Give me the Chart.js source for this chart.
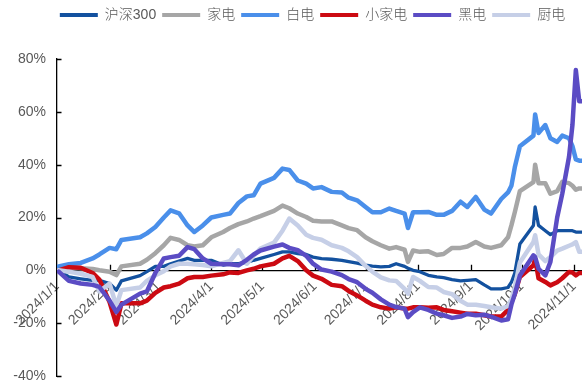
<!DOCTYPE html>
<html>
<head>
<meta charset="utf-8">
<script src="https://cdn.jsdelivr.net/npm/chart.js@4.4.1/dist/chart.umd.min.js"></script>
<style>
  html, body { margin: 0; padding: 0; overflow: hidden; background: #ffffff; }
  canvas { display: block; }
</style>
</head>
<body>
<canvas id="chart" width="630" height="387"></canvas>
<script>
// Trading dates sampled through 2024 (cumulative return, %)
const dates = [
  '2024-01-02','2024-01-08','2024-01-15','2024-01-22','2024-01-26','2024-02-01','2024-02-05','2024-02-08','2024-02-19','2024-02-23',
  '2024-02-28','2024-03-04','2024-03-08','2024-03-13','2024-03-18','2024-03-22','2024-03-27','2024-04-01','2024-04-08','2024-04-12',
  '2024-04-17','2024-04-22','2024-04-26','2024-04-30','2024-05-08','2024-05-13','2024-05-17','2024-05-22','2024-05-27','2024-05-31',
  '2024-06-05','2024-06-11','2024-06-17','2024-06-21','2024-06-26','2024-07-01','2024-07-05','2024-07-10','2024-07-15','2024-07-19',
  '2024-07-24','2024-07-26','2024-07-29','2024-08-02','2024-08-07','2024-08-12','2024-08-16','2024-08-21','2024-08-26','2024-08-30',
  '2024-09-04','2024-09-09','2024-09-13','2024-09-19','2024-09-23','2024-09-25','2024-09-27','2024-09-30','2024-10-08','2024-10-09',
  '2024-10-11','2024-10-15','2024-10-18','2024-10-22','2024-10-25','2024-10-29','2024-10-31','2024-11-02','2024-11-04','2024-11-06'
];

const hs300 = [
  0, -2.5, -3.2, -3.8, -3.8, -5, -7.5, -4, -2, -0.5,
  1.5, 1.5, 2.5, 3.5, 4.5, 3.8, 3.8, 3.8, 2, 2.5,
  2.5, 3, 3.8, 4.5, 6, 7, 7, 6.3, 6, 5,
  4.4, 4.2, 3.8, 3.3, 2.7, 2, 1.6, 1.3, 1.5, 2.5,
  1.5, 0.8, 0, -0.5, -1.9, -2.5, -2.8, -3.5, -4, -3.8,
  -3.5, -5.5, -7, -7, -6.5, -4.5, -1, 10, 17, 24,
  17, 15, 13.5, 15, 15, 15, 15, 14.5, 14.5, 14.5
];
const appliances = [
  1, 1, 0.8, 0.5, 0, -0.5, -1.8, 1.5, 2.5, 4,
  6.5, 9.5, 12.3, 11.5, 9.5, 9, 9.5, 12.5, 14.5, 16,
  17.5, 18.5, 19.6, 20.5, 22.5, 24.5, 23.5, 21.5, 20.2, 18.8,
  18.5, 18.5, 17, 16, 15.2, 12.5, 11, 9.5, 8.2, 8.8,
  7.8, 3.2, 7.5, 7, 7.2, 5.8, 6.2, 8.5, 8.5, 9,
  10.7, 9, 8.5, 9.5, 12.5, 17, 22, 30, 33.4, 40,
  33, 33, 29, 30, 33.5, 33, 32, 30.5, 31, 31
];
const whiteGoods = [
  1.5, 2.3, 2.8, 4.5, 6, 8.5, 8, 11.5, 12.5, 14,
  16.4, 20, 22.7, 21.6, 17, 14.5, 17, 20, 21, 21.5,
  25.5, 28, 28.4, 32.8, 35, 38.5, 38, 34, 32.8, 31,
  31.5, 29.7, 29.5, 27.5, 26.5, 24, 22, 22, 23.4, 22.5,
  21.5, 16, 22, 22, 22.1, 21, 21, 22.5, 26, 24,
  27.8, 23, 21.5, 27, 29.5, 32, 39, 47, 51, 59,
  52, 55, 50, 48.6, 51, 50, 47, 42, 41.5, 41.5
];
const smallAppliances = [
  0, 1.2, 1, -1, -3.5, -12, -20.5, -12.5, -12.5, -11.5,
  -8.5, -6.5, -6, -5, -3, -2.5, -2.5, -2, -1.5, -0.8,
  -1, 0, 0.6, 1.5, 2.5, 4.5, 5.5, 3.5, 0, -2,
  -3.2, -5.5, -6, -7.8, -9.5, -11.5, -13, -14, -14.5, -14,
  -14.5, -14.5, -14, -14, -14.2, -14, -15, -15.5, -16, -16.4,
  -16.4, -17, -17.5, -17.5, -15, -12, -9, -2.5, 1.9, 4.4,
  -3, -4.4, -5.7, -4.5, -3, -0.6, -0.8, -1.9, -1, -1
];
const blackGoods = [
  -0.5, -4, -5, -5.5, -6.3, -11.5, -15.8, -13, -8.8, -8,
  -1, 4.5, 5, 5.5, 8.8, 8, 4.5, 2.5, 2.3, 2.3,
  1.9, 4, 6, 7.5, 9, 9.8, 8.5, 7.6, 5.5, 2.5,
  0.3, -0.5, -1.8, -3.3, -4.5, -7, -8.5, -11, -13, -13.9,
  -14.5, -17.7, -15.8, -14, -15, -16.4, -17, -18, -17.5, -16.5,
  -17, -16.8, -17.5, -19, -18.5, -13, -9, -2, 5.7, 5,
  0.6, -1.9, 3.2, 20, 29, 43, 55, 75.8, 64, 64
];
const kitchen = [
  0, -0.5, -1.3, -2.5, -8, -5, -13.5, -7.5, -6.5, -4,
  -1.9, -0.3, 1.5, 2.5, 2.5, 2.3, 2, 1.5, 2.8, 3.5,
  7.6, 2.5, 5.5, 8.2, 10.5, 15, 19.6, 17, 13.5, 12.3,
  11.6, 9.5, 8.5, 7.2, 5, 1.7, -0.5, -2.7, -3.8, -4,
  -7, -8.8, -2.5, -4, -6.3, -6.5, -8.2, -9, -11.5, -13,
  -13, -13.5, -14, -14.5, -13.5, -11, -6.5, 3, 10.7, 13.3,
  6, 3.5, 5, 7.5, 8.2, 9.3, 9.8, 10.7, 7, 7
];

const seriesNames = ['沪深300', '家电', '白电', '小家电', '黑电', '厨电'];
const monthTicks = ['2024-01-01','2024-02-01','2024-03-01','2024-04-01','2024-05-01','2024-06-01',
                    '2024-07-01','2024-08-01','2024-09-01','2024-10-01','2024-11-01'];

// Dates become day offsets from 2024-01-01 on a linear axis
const BASE = Date.UTC(2024, 0, 1);
const dayOf = s => { const [y, m, d] = s.split('-').map(Number); return (Date.UTC(y, m - 1, d) - BASE) / 86400000; };
const xs = dates.map(dayOf);
const tickDays = monthTicks.map(dayOf);
const tickText = monthTicks.map(s => { const [y, m, d] = s.split('-').map(Number); return y + '/' + m + '/' + d; });

const line = (label, values, color, width, order) => ({
  label,
  data: values.map((v, i) => ({ x: xs[i], y: v })),
  borderColor: color,
  backgroundColor: color,
  borderWidth: width,
  pointRadius: 0,
  pointHoverRadius: 0,
  tension: 0,
  fill: false,
  order,
  borderJoinStyle: 'round',
  borderCapStyle: 'round'
});

Chart.defaults.font.family = '"Liberation Sans", "Noto Sans CJK SC", Arial, sans-serif';
Chart.defaults.color = '#595959';

// Short tick marks pointing into the plot, drawn under the series
const innerTicks = {
  id: 'innerTicks',
  beforeDatasetsDraw(chart) {
    const { ctx, scales: { x, y } } = chart;
    const y0 = y.getPixelForValue(0);
    ctx.save();
    ctx.strokeStyle = '#000';
    ctx.lineWidth = 1.3;
    ctx.beginPath();
    y.ticks.forEach(t => {
      const py = Math.round(y.getPixelForValue(t.value)) + 0.5;
      ctx.moveTo(chart.chartArea.left, py);
      ctx.lineTo(chart.chartArea.left + 4.5, py);
    });
    x.ticks.forEach((t, i) => {
      if (i === 0) return;
      const px = Math.round(x.getPixelForValue(t.value)) + 0.5;
      ctx.moveTo(px, y0);
      ctx.lineTo(px, y0 - 5.5);
    });
    ctx.stroke();
    ctx.restore();
  }
};

// Room between the legend row and the top of the plot
const legendRoom = {
  id: 'legendRoom',
  beforeUpdate(chart) {
    const lg = chart.legend;
    if (lg && !lg.__roomy) {
      const fit = lg.fit;
      lg.fit = function () { fit.call(this); this.height = 57; };
      lg.__roomy = true;
    }
  }
};

new Chart(document.getElementById('chart'), {
  type: 'line',
  data: {
    datasets: [
      line(seriesNames[0], hs300, '#13519f', 3.3, 5),
      line(seriesNames[1], appliances, '#a6a6a6', 4.5, 4),
      line(seriesNames[2], whiteGoods, '#4a8fea', 4.5, 3),
      line(seriesNames[3], smallAppliances, '#cc0a12', 4.5, 2),
      line(seriesNames[4], blackGoods, '#5b4cc4', 4.5, 0),
      line(seriesNames[5], kitchen, '#c6cfe7', 4.5, 1)
    ]
  },
  options: {
    responsive: false,
    animation: false,
    events: [],
    layout: { padding: { top: 2, left: 0, right: 5, bottom: 11 } },
    plugins: {
      tooltip: { enabled: false },
      legend: {
        position: 'top',
        labels: {
          boxWidth: 38,
          boxHeight: 4,
          padding: 6,
          color: '#595959',
          font: { size: 14, weight: '300' },
          generateLabels(chart) {
            return chart.data.datasets.map((ds, i) => ({
              text: ds.label,
              fillStyle: ds.borderColor,
              strokeStyle: ds.borderColor,
              lineWidth: 0,
              hidden: false,
              datasetIndex: i,
              fontColor: '#595959'
            }));
          }
        }
      }
    },
    scales: {
      x: {
        type: 'linear',
        min: 0,
        max: 335,
        position: { y: 0 },
        border: { display: true, color: '#000', width: 1.3 },
        grid: { display: true, drawOnChartArea: false, drawTicks: false },
        afterBuildTicks(scale) { scale.ticks = tickDays.map(v => ({ value: v })); },
        ticks: {
          autoSkip: false,
          minRotation: 45,
          maxRotation: 45,
          padding: 8,
          color: '#595959',
          font: { size: 14 },
          callback(value) { const i = tickDays.indexOf(value); return i >= 0 ? tickText[i] : ''; }
        }
      },
      y: {
        min: -40,
        max: 80,
        border: { display: true, color: '#000', width: 1.3 },
        grid: { display: true, drawOnChartArea: false, drawTicks: false },
        ticks: {
          stepSize: 20,
          padding: 11,
          color: '#595959',
          font: { size: 14 },
          callback: v => v + '%'
        },
        afterFit(scale) {
          scale.width = 57;
          scale.paddingTop = 0;
          scale.paddingBottom = 0;
        }
      }
    }
  },
  plugins: [innerTicks, legendRoom]
});
</script>
</body>
</html>
